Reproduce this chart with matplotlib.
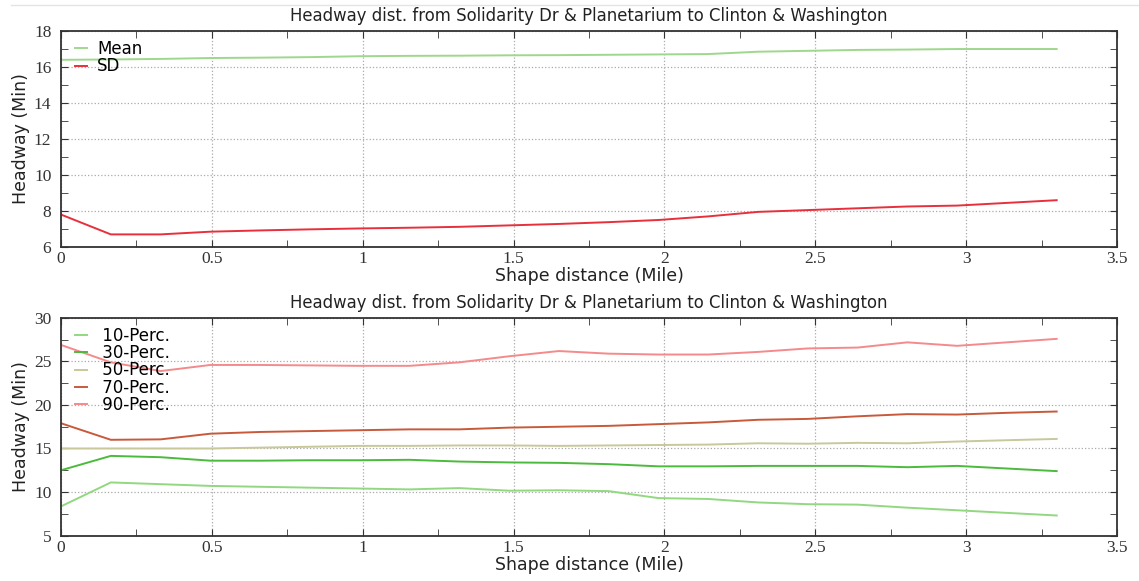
import matplotlib
matplotlib.use('Agg')
import matplotlib.pyplot as plt
from matplotlib.lines import Line2D

# Shape distance (mile) of each stop segment
dist = [0, 0.165, 0.33, 0.495, 0.66, 0.825, 0.99, 1.155, 1.32, 1.485, 1.65,
        1.815, 1.98, 2.145, 2.31, 2.475, 2.64, 2.805, 2.97, 3.135, 3.3]

# Top panel: mean and standard deviation of headway (min)
mean_hw = [16.4, 16.42, 16.45, 16.5, 16.52, 16.55, 16.6, 16.62, 16.63, 16.65, 16.66,
           16.68, 16.7, 16.72, 16.85, 16.9, 16.95, 16.97, 17.0, 17.0, 17.0]
sd_hw = [7.8, 6.7, 6.7, 6.85, 6.92, 6.98, 7.03, 7.07, 7.12, 7.2, 7.28,
         7.38, 7.5, 7.7, 7.95, 8.05, 8.15, 8.25, 8.3, 8.45, 8.6]

# Bottom panel: headway percentiles (min)
p10 = [8.35, 11.1, 10.9, 10.7, 10.6, 10.5, 10.4, 10.3, 10.45, 10.15, 10.2,
       10.1, 9.3, 9.2, 8.8, 8.6, 8.55, 8.2, 7.9, 7.6, 7.3]
p30 = [12.5, 14.15, 14.0, 13.6, 13.6, 13.65, 13.65, 13.7, 13.5, 13.4, 13.35,
       13.2, 12.95, 12.95, 13.0, 13.0, 13.0, 12.85, 13.0, 12.7, 12.4]
p50 = [15.0, 15.0, 15.0, 15.0, 15.1, 15.2, 15.3, 15.3, 15.35, 15.35, 15.3,
       15.35, 15.4, 15.45, 15.6, 15.55, 15.65, 15.6, 15.8, 15.95, 16.1]
p70 = [17.9, 16.0, 16.05, 16.7, 16.9, 17.0, 17.1, 17.2, 17.2, 17.4, 17.5,
       17.6, 17.8, 18.0, 18.3, 18.4, 18.7, 18.95, 18.9, 19.1, 19.25]
p90 = [26.9, 24.9, 23.9, 24.6, 24.6, 24.55, 24.5, 24.5, 24.9, 25.6, 26.2,
       25.9, 25.8, 25.8, 26.1, 26.5, 26.6, 27.2, 26.8, 27.2, 27.6]

title = 'Headway dist. from Solidarity Dr & Planetarium to Clinton & Washington'

fig = plt.figure(figsize=(11.39, 5.81), dpi=100)
ax1 = fig.add_axes([0.0536, 0.5749, 0.9271, 0.3717])
ax2 = fig.add_axes([0.0536, 0.0783, 0.9271, 0.3744])

# faint border line at the top of the image
fig.add_artist(Line2D([0.01, 1.0], [0.991, 0.991], color='#e4e4e4', lw=1))

ax1.plot(dist, mean_hw, color='#9ed88c', lw=1.4, label='Mean')
ax1.plot(dist, sd_hw, color='#e8303c', lw=1.4, label='SD')
ax1.set_ylim(6, 18)
ax1.set_yticks([6, 8, 10, 12, 14, 16, 18])

ax2.plot(dist, p10, color='#92d880', lw=1.4, label=' 10-Perc.')
ax2.plot(dist, p30, color='#4cba3c', lw=1.4, label=' 30-Perc.')
ax2.plot(dist, p50, color='#c8c89a', lw=1.4, label=' 50-Perc.')
ax2.plot(dist, p70, color='#c85a3c', lw=1.4, label=' 70-Perc.')
ax2.plot(dist, p90, color='#f48a8c', lw=1.4, label=' 90-Perc.')
ax2.set_ylim(5, 30)
ax2.set_yticks([5, 10, 15, 20, 25, 30])

for ax in (ax1, ax2):
    ax.set_xlim(0, 3.5)
    ax.set_xticks([0, 0.5, 1, 1.5, 2, 2.5, 3, 3.5])
    ax.set_xticklabels(['0', '0.5', '1', '1.5', '2', '2.5', '3', '3.5'])
    ax.set_xticks([0.25, 0.75, 1.25, 1.75, 2.25, 2.75, 3.25], minor=True)
    ax.yaxis.set_minor_locator(matplotlib.ticker.AutoMinorLocator(2))
    ax.tick_params(which='both', direction='in', top=True, right=True, color='#333333')
    ax.tick_params(which='both', length=5)
    ax.tick_params(axis='x', which='major', pad=3)
    ax.tick_params(axis='y', which='major', pad=7)
    for lab in ax.get_xticklabels() + ax.get_yticklabels():
        lab.set_fontfamily('Liberation Serif')
        lab.set_fontsize(12.5)
        lab.set_color('#333333')
    for sp in ax.spines.values():
        sp.set_color('#333333')
        sp.set_linewidth(1.3)
    ax.grid(True, which='major', linestyle=':', color='#aaaaaa', lw=0.9)
    ax.set_title(title, fontsize=11.9, color='#222222', pad=7)
    ax.set_xlabel('Shape distance (Mile)', fontsize=12.5, color='#222222', labelpad=0)
    ax.set_ylabel('Headway (Min)', fontsize=12.5, color='#222222', labelpad=3)
    ax.legend(loc='upper left', frameon=False, fontsize=12, handlelength=0.7,
              handletextpad=0.6, labelspacing=-0.05, borderaxespad=0.3,
              borderpad=0.25, bbox_to_anchor=(0.005, 1.0))

plt.savefig('out.png', dpi=100)
